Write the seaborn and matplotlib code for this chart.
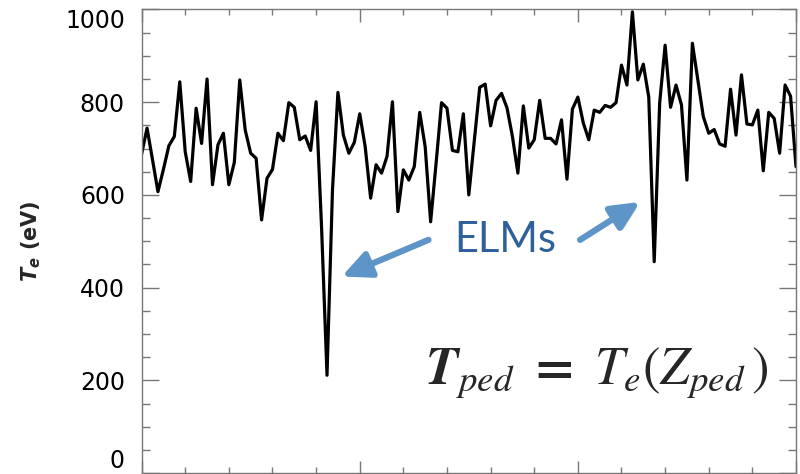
"""
Pedestal electron temperature time trace with ELM drops.
"""

import numpy as np
import matplotlib
import matplotlib.pyplot as plt
import matplotlib.patheffects as pe
from matplotlib.ticker import MultipleLocator
import seaborn as sns

sns.set_style("white")
plt.rcParams['font.family'] = ['DejaVu Sans']
plt.rcParams['mathtext.fontset'] = 'custom'
plt.rcParams['mathtext.it'] = 'DejaVu Sans:italic:bold'
plt.rcParams['mathtext.rm'] = 'DejaVu Sans:bold'

# Te samples (eV), one per time slice
te_values = [
    688, 744, 676, 607, 655, 706, 726, 844, 693, 629,
    787, 711, 850, 622, 708, 733, 622, 670, 848, 740,
    690, 679, 546, 636, 655, 733, 717, 799, 789, 719,
    727, 696, 801, 530, 211, 610, 821, 729, 690, 713,
    775, 704, 593, 665, 647, 683, 801, 564, 654, 632,
    661, 778, 704, 542, 668, 799, 787, 696, 693, 775,
    600, 716, 832, 839, 749, 804, 819, 788, 726, 647,
    792, 701, 719, 804, 722, 722, 710, 762, 634, 785,
    811, 755, 719, 783, 778, 793, 789, 799, 880, 837,
    995, 848, 882, 811, 456, 798, 923, 789, 837, 794,
    632, 927, 848, 769, 733, 741, 710, 705, 828, 729,
    859, 753, 751, 783, 652, 778, 765, 690, 837, 813,
    661,
]
time_index = np.arange(len(te_values))

y_ticks = [0, 200, 400, 600, 800, 1000]

# annotation arrows: (tail, head) in data coords
elm_arrows = [((52.6, 503), (36.7, 424)),
              ((80.4, 503), (91.4, 585))]

fig = plt.figure(figsize=(8, 4.74), dpi=100)
ax = fig.add_axes([0.177, 0.002, 0.818, 0.978])

sns.lineplot(x=time_index, y=te_values, ax=ax, color='black', linewidth=2.3)

ax.set_xlim(0, 120)
ax.set_ylim(0, 1000)
ax.xaxis.set_major_locator(MultipleLocator(40))
ax.xaxis.set_minor_locator(MultipleLocator(8))
ax.set_yticks(y_ticks)
ax.yaxis.set_minor_locator(MultipleLocator(50))

ax.tick_params(axis='y', which='both', direction='in', left=True, right=True,
               colors='#777777', labelcolor='black', labelsize=17, pad=12)
ax.tick_params(axis='y', which='major', length=12, width=1)
ax.tick_params(axis='y', which='minor', length=6, width=1)
ax.tick_params(axis='x', which='both', direction='in', top=True, bottom=True,
               labelbottom=False, colors='#777777')
ax.tick_params(axis='x', which='major', length=9, width=1)
ax.tick_params(axis='x', which='minor', length=4.5, width=1)

# end labels sit inside the figure, like the reference
ylabels = ax.get_yticklabels()
ylabels[0].set_va('bottom')
ylabels[-1].set_va('top')

for spine in ax.spines.values():
    spine.set_color('#777777')
    spine.set_linewidth(1)

ax.set_ylabel(r'$T_e$ (eV)', fontsize=15, fontweight='bold', labelpad=16)
ax.set_xlabel('')

# ELM annotation
ax.text(66.6, 503, 'ELMs', fontsize=30, color='#2e6199', ha='center', va='center',
        family=['Lato', 'DejaVu Sans'])
shadow = [pe.withSimplePatchShadow(offset=(2, -2), alpha=0.25)]
for tail, head in elm_arrows:
    ax.annotate('', xy=head, xytext=tail,
                arrowprops=dict(arrowstyle='-|>,head_length=0.85,head_width=0.4',
                                color='#5e95c9', lw=4.5, mutation_scale=20,
                                shrinkA=0, shrinkB=0, path_effects=shadow))

# pedestal definition
fig.text(0.531, 0.19, r'$\mathbfit{T}_{ped}\ \mathbf{=}\ T_e(Z_{ped}\,)$', fontsize=38,
         ha='left', va='baseline', math_fontfamily='stix')

plt.savefig('out.png', dpi=100)
plt.close()
